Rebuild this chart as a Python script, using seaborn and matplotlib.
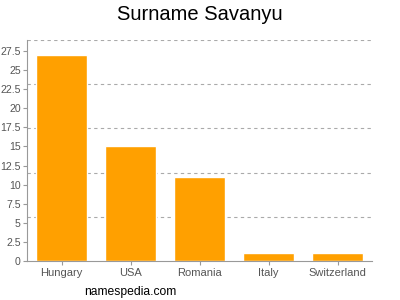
import matplotlib
matplotlib.use("Agg")
import matplotlib.pyplot as plt
import seaborn as sns
import pandas as pd
import numpy as np

countries = ["Hungary", "USA", "Romania", "Italy", "Switzerland"]
values = [27, 15, 11, 1, 1]
yticks = [0, 2.5, 5, 7.5, 10, 12.5, 15, 17.5, 20, 22.5, 25, 27.5]
title = "Surname Savanyu"
watermark = "namespedia.com"

sns.set_style("white")
plt.rcParams['font.family'] = ['Liberation Sans', 'DejaVu Sans']

df = pd.DataFrame({"country": countries, "value": values})

fig = plt.figure(figsize=(4, 3), dpi=100)
ax = fig.add_axes([0.0675, 0.13, 0.8625, 0.737])
sns.barplot(data=df, x="country", y="value", color="#FFA000", width=0.725,
            saturation=1, ax=ax, zorder=2)

ymax = 28.94
ax.set_ylim(0, ymax)
ax.set_xlim(-0.5, 4.5)
ax.set_yticks(yticks)
ax.set_yticklabels([f"{t:g}" for t in yticks])
for k in range(1, 6):
    ax.axhline(ymax * k / 5, color="#aaaaaa", lw=0.8, ls=(0, (3, 3)), zorder=1)

ax.set_xlabel("")
ax.set_ylabel("")
for s in ["top", "right"]:
    ax.spines[s].set_visible(False)
for s in ["left", "bottom"]:
    ax.spines[s].set_color("#999999")
    ax.spines[s].set_linewidth(0.8)
ax.tick_params(axis="both", colors="#999999", length=3, width=0.8,
               labelsize=8, labelcolor="#555555", pad=2)
ax.tick_params(axis="y", labelsize=7.6, pad=1.5)
ax.tick_params(axis="x", direction="out", bottom=True)
ax.tick_params(axis="y", direction="out", left=True)

fig.text(0.5, 0.95, title, ha="center", va="center", fontsize=14.5, color="#000000")
fig.text(0.326, 0.028, watermark, ha="center", va="center", fontsize=8.7, color="#000000")

fig.savefig("out.png", dpi=100)
